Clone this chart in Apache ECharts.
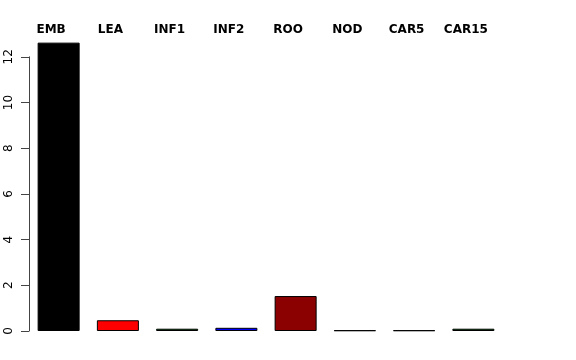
<!DOCTYPE html>
<html>
<head>
<meta charset="utf-8">
<script src="https://cdn.jsdelivr.net/npm/echarts@6/dist/echarts.min.js"></script>
<style>html,body{margin:0;padding:0;background:#fff}#c{width:576px;height:360px}</style>
</head>
<body>
<div id="c"></div>
<script>
const categories = ['EMB', 'LEA', 'INF1', 'INF2', 'ROO', 'NOD', 'CAR5', 'CAR15'];
const values = [12.62, 0.47, 0.1, 0.14, 1.53, 0.03, 0.03, 0.1];
const barColors = ['#000000', '#FF0000', '#006400', '#0000FF', '#8B0000', '#6A3D9A', '#808080', '#006400'];
const yTicks = [0, 2, 4, 6, 8, 10, 12];

const zeroY = 331;
const pxPerUnit = 22.85;
const barMax = 12.7;
const axisMax = yTicks[yTicks.length - 1];
const gridLeft = 29, gridRight = 73;

const chart = echarts.init(document.getElementById('c'), null, {renderer: 'canvas'});
chart.setOption({
  animation: false,
  backgroundColor: '#ffffff',
  grid: [
    {left: gridLeft, right: gridRight, top: zeroY - barMax * pxPerUnit, bottom: 360 - zeroY},
    {left: gridLeft, right: gridRight, top: zeroY - axisMax * pxPerUnit, bottom: 360 - zeroY}
  ],
  xAxis: [
    {
      gridIndex: 0, type: 'category', data: categories, position: 'top',
      axisLine: {show: false}, axisTick: {show: false},
      axisLabel: {
        interval: 0, margin: 5, color: '#000',
        fontFamily: 'DejaVu Sans', fontWeight: 'bold', fontSize: 12,
        padding: [0, 15, 0, 0]
      }
    },
    {
      gridIndex: 1, type: 'category', data: categories, show: false
    }
  ],
  yAxis: [
    {
      gridIndex: 0, type: 'value', min: 0, max: barMax, show: false, splitLine: {show: false}
    },
    {
      gridIndex: 1, type: 'value', min: 0, max: axisMax, interval: 2,
      splitLine: {show: false},
      axisLine: {show: true, lineStyle: {color: '#444', width: 1}},
      axisTick: {show: true, length: 8, lineStyle: {color: '#444', width: 1}},
      axisLabel: {
        rotate: 90, margin: 14, color: '#000',
        fontFamily: 'DejaVu Sans', fontSize: 12,
        formatter: v => yTicks.includes(v) ? String(v) : ''
      }
    }
  ],
  series: [{
    type: 'bar', xAxisIndex: 0, yAxisIndex: 0, barWidth: 42,
    data: values.map((v, i) => ({value: v, itemStyle: {color: barColors[i]}})),
    itemStyle: {borderColor: '#000', borderWidth: 1}
  }]
});
</script>
</body>
</html>
